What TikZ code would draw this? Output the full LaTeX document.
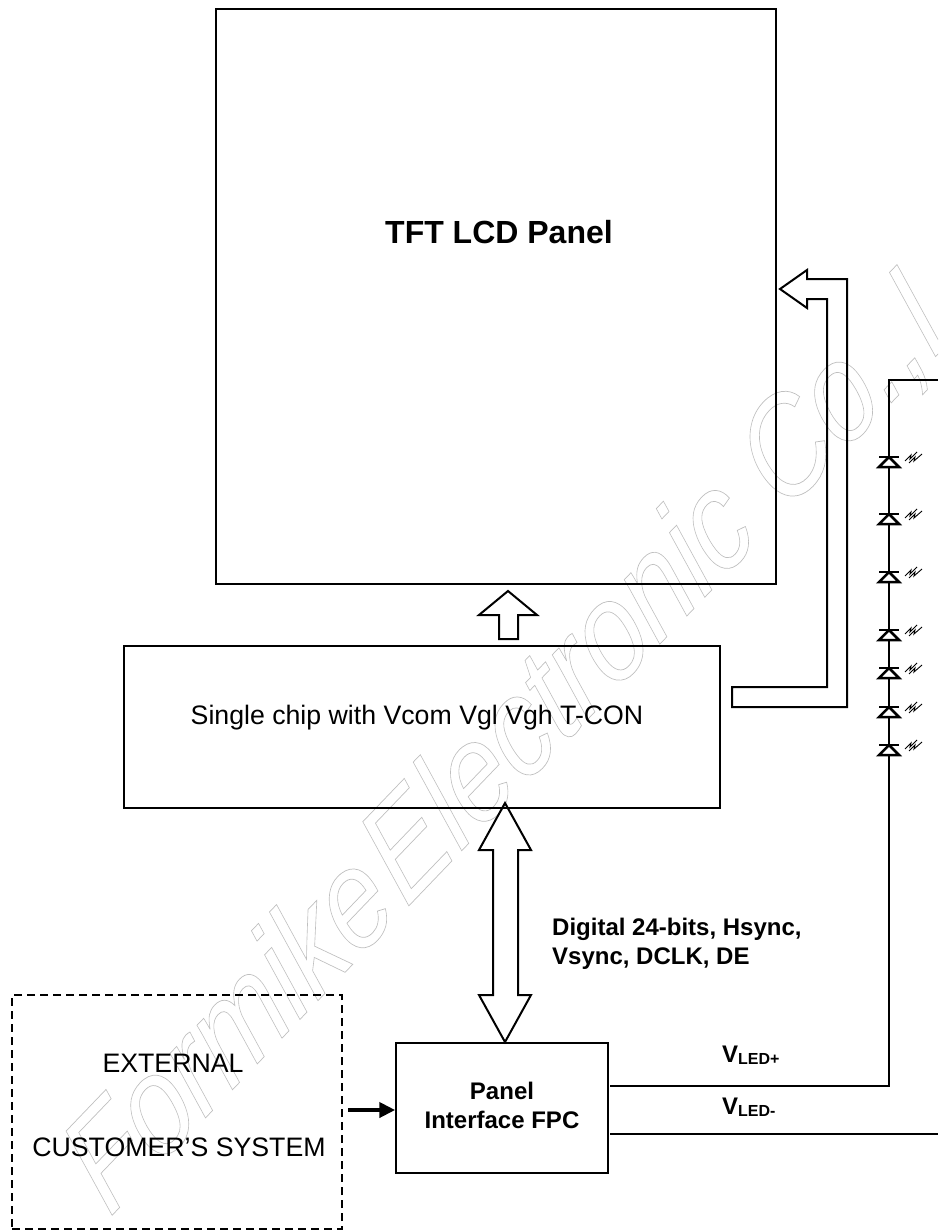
\documentclass[tikz,border=0pt]{standalone}
\usepackage{fontspec}
\setmainfont{Liberation Sans}
\usepackage{xcolor}
\usetikzlibrary{arrows.meta}
\tikzset{
  blockbox/.style={draw, line width=1.5pt, align=center, inner sep=0pt},
  wire/.style={line width=2pt},
  hollowarrow/.style={draw, line width=2pt, line join=miter},
  bodytext/.style={font=\fontsize{26.7}{29}\selectfont, align=center},
  boldtext/.style={font=\fontsize{24}{29}\selectfont\bfseries, align=left, inner sep=0pt},
  ledsym/.style={line width=0.9pt}
}
\newcommand{\vledlabel}[1]{V\raisebox{-2pt}{\fontsize{16}{16}\selectfont LED#1}}
\begin{document}
\begin{tikzpicture}[x=1pt,y=-1pt]
\useasboundingbox (0,0) rectangle (938,1231);
\begin{scope}
\clip (0,0) rectangle (938,1231);
% watermark
\node[rotate=46.2, xslant=0.145, xscale=0.88, transform shape, anchor=base west, inner sep=0pt] (mark) at (109.5,1218) {\fontsize{133}{133}\selectfont\itshape\special{pdf:code 1 Tr 0.7 w 0.75 0.75 0.75 RG}Formike\kern-30pt{} Electronic Co.,Ltd\special{pdf:code 0 Tr 0 0 0 RG}};
\end{scope}
% main blocks
\node[blockbox, minimum width=560, minimum height=575] (panel) at (496,296.5) {};
\node[font=\fontsize{32}{36}\selectfont\bfseries] (paneltext) at (499,232) {TFT LCD Panel};
\node[blockbox, minimum width=596, minimum height=162] (chip) at (422,727) {};
\node[bodytext] (chiptext) at (417,718) {Single chip with Vcom Vgl Vgh T-CON};
\node[blockbox, minimum width=212, minimum height=130] (fpc) at (502,1108) {};
\node[font=\fontsize{24}{29}\selectfont\bfseries, align=center] (fpctext) at (502,1105) {Panel\\Interface FPC};
\node[blockbox, dashed, dash pattern=on 8pt off 5pt, minimum width=330, minimum height=234] (ext) at (177,1112) {};
\node[bodytext] (exttop) at (173,1063) {EXTERNAL};
\node[bodytext] (extbot) at (179,1147) {CUSTOMER’S SYSTEM};
\node[boldtext, anchor=west] (buslabel) at (552,944) {Digital 24-bits, Hsync,\\Vsync, DCLK, DE};
\node[boldtext, anchor=base west] (vplus) at (722,1062) {\vledlabel{+}};
\node[boldtext, anchor=base west] (vminus) at (722,1114) {\vledlabel{-}};
% hollow arrows
\draw[hollowarrow] (508,591) -- (537,615) -- (518,615) -- (518,639) -- (499,639) -- (499,615) -- (479,615) -- cycle;
\draw[hollowarrow] (780,289) -- (807,270) -- (807,279) -- (847,279) -- (847,707) -- (732,707) -- (732,687) -- (827,687) -- (827,299) -- (807,299) -- (807,308) -- cycle;
\draw[hollowarrow] (505,803) -- (531,850) -- (518,850) -- (518,995) -- (531,995) -- (505,1042) -- (479,995) -- (493,995) -- (493,850) -- (479,850) -- cycle;
% system arrow
\coordinate (extout) at (348,1110);
\draw[line width=4pt, -{Triangle[length=16pt,width=15pt]}] (extout) -- (fpc.west |- extout);
% LED rail
\coordinate (railtop) at (889,380);
\coordinate (railend) at (938,380);
\coordinate (railfoot) at (889,1086);
\coordinate (plusstart) at (610,1086);
\coordinate (minusstart) at (610,1134);
\coordinate (minusend) at (938,1134);
\draw[wire] (plusstart) -- (railfoot) -- (railtop) -- (railend);
\draw[wire] (minusstart) -- (minusend);
\foreach \y in {457,514,572,630,668,707,745} {
  \draw[line width=2.5pt, fill=white] (889,\y) -- (899,\y+10) -- (879,\y+10) -- cycle;
  \draw[line width=2.5pt] (879,\y) -- (899,\y);
  \draw[ledsym] (905,\y+4) -- (911,\y-2) -- (910,\y+2) -- (917,\y-5);
  \draw[ledsym] (909,\y+6) -- (915,\y) -- (914,\y+4) -- (922,\y-3);
}
\end{tikzpicture}
\end{document}
